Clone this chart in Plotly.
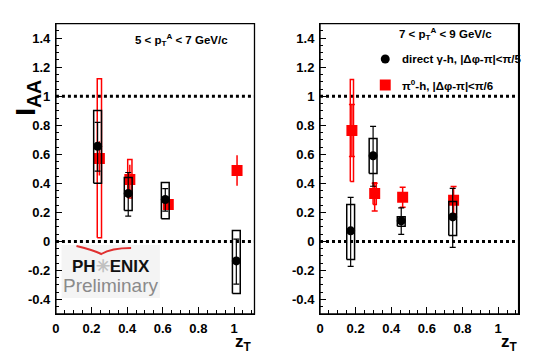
import numpy as np
import plotly.graph_objects as go

W, H = 559, 359

# panel 1: 5 < pT^A < 7 GeV/c
zt_gam_1 = [0.234, 0.406, 0.614, 1.013]
iaa_gam_1 = [0.656, 0.331, 0.289, -0.134]
stat_lo_gam_1 = [0.484, 0.174, 0.209, -0.294]
stat_hi_gam_1 = [0.820, 0.475, 0.364, 0.016]
sys_lo_gam_1 = [0.400, 0.213, 0.156, -0.358]
sys_hi_gam_1 = [0.902, 0.441, 0.406, 0.076]

zt_pi_1 = [0.244, 0.415, 0.631, 1.017]
iaa_pi_1 = [0.572, 0.427, 0.255, 0.489]
stat_lo_pi_1 = [0.455, 0.330, 0.225, 0.383]
stat_hi_pi_1 = [0.690, 0.528, 0.285, 0.594]
sys_lo_pi_1 = [0.025, 0.300, None, None]
sys_hi_pi_1 = [1.120, 0.565, None, None]

# panel 2: 7 < pT^A < 9 GeV/c
zt_gam_2 = [0.172, 0.298, 0.456, 0.745]
iaa_gam_2 = [0.073, 0.590, 0.142, 0.169]
stat_lo_gam_2 = [-0.172, 0.380, 0.048, -0.041]
stat_hi_gam_2 = [0.303, 0.792, 0.231, 0.365]
sys_lo_gam_2 = [-0.124, 0.468, 0.105, 0.041]
sys_hi_gam_2 = [0.255, 0.709, 0.170, 0.275]

zt_pi_2 = [0.179, 0.307, 0.464, 0.750]
iaa_pi_2 = [0.764, 0.331, 0.305, 0.284]
stat_lo_pi_2 = [0.585, 0.209, 0.236, 0.190]
stat_hi_pi_2 = [0.944, 0.400, 0.374, 0.379]
sys_lo_pi_2 = [0.413, 0.255, None, None]
sys_hi_pi_2 = [1.116, 0.404, None, None]

y_ticks = [-0.4, -0.2, 0, 0.2, 0.4, 0.6, 0.8, 1.0, 1.2, 1.4]
y_ticktext = ["-0.4", "-0.2", "0", "0.2", "0.4", "0.6", "0.8", "1", "1.2", "1.4"]
x_ticks = [0, 0.2, 0.4, 0.6, 0.8, 1.0]
x_ticktext = ["0", "0.2", "0.4", "0.6", "0.8", "1"]

FONT = "Liberation Sans, Arial, sans-serif"
RED = "#ff0000"


def px(x):
    return x / W


def py(y):
    return 1 - y / H


def box_path(xs, lo, hi, hw):
    bx, by = [], []
    for x, a, b in zip(xs, lo, hi):
        if a is None:
            continue
        bx += [x - hw, x + hw, x + hw, x - hw, x - hw, None]
        by += [a, a, b, b, a, None]
    return bx, by


def err(vals, lo, hi):
    v = np.array(vals)
    return dict(type="data", symmetric=False, array=np.array(hi) - v,
                arrayminus=v - np.array(lo))


fig = go.Figure()

panels = [
    ("x", "y", zt_gam_1, iaa_gam_1, stat_lo_gam_1, stat_hi_gam_1, sys_lo_gam_1, sys_hi_gam_1,
     zt_pi_1, iaa_pi_1, stat_lo_pi_1, stat_hi_pi_1, sys_lo_pi_1, sys_hi_pi_1, 0.012, 0),
    ("x2", "y2", zt_gam_2, iaa_gam_2, stat_lo_gam_2, stat_hi_gam_2, sys_lo_gam_2, sys_hi_gam_2,
     zt_pi_2, iaa_pi_2, stat_lo_pi_2, stat_hi_pi_2, sys_lo_pi_2, sys_hi_pi_2, 0.009, 3),
]

for (xa, ya, zg, ig, slg, shg, ylg, yhg, zp, ip, slp, shp, ylp, yhp, red_hw, red_cap) in panels:
    # red systematic boxes
    bx, by = box_path(zp, ylp, yhp, red_hw)
    fig.add_trace(go.Scatter(x=bx, y=by, mode="lines", line=dict(color=RED, width=1.5),
                             xaxis=xa, yaxis=ya, showlegend=False, hoverinfo="skip"))
    # pi0-h points
    fig.add_trace(go.Scatter(x=zp, y=ip, mode="markers", xaxis=xa, yaxis=ya,
                             marker=dict(symbol="square", size=11, color=RED),
                             error_y=dict(**err(ip, slp, shp), color=RED, thickness=1.5, width=red_cap),
                             showlegend=False))
    # black systematic boxes
    bx, by = box_path(zg, ylg, yhg, 0.022)
    fig.add_trace(go.Scatter(x=bx, y=by, mode="lines", line=dict(color="black", width=1.5),
                             xaxis=xa, yaxis=ya, showlegend=False, hoverinfo="skip"))
    # direct gamma-h points
    fig.add_trace(go.Scatter(x=zg, y=ig, mode="markers", xaxis=xa, yaxis=ya,
                             marker=dict(symbol="circle", size=9, color="black"),
                             error_y=dict(**err(ig, slg, shg), color="black", thickness=1.2, width=3),
                             showlegend=False))

axis_font = dict(family=FONT, size=13, color="black", weight="bold")
common_x = dict(range=[0, 1.115], showline=True, linecolor="black", linewidth=1, mirror=True,
                showgrid=False, zeroline=False, ticks="inside", ticklen=7, tickwidth=1,
                tickcolor="black", tickvals=x_ticks, ticktext=x_ticktext, tickfont=axis_font,
                ticklabelstandoff=2,
                minor=dict(dtick=0.05, tick0=0, ticks="inside", ticklen=4, tickcolor="black",
                           showgrid=False))
common_y = dict(range=[-0.5, 1.5], showline=True, linecolor="black", linewidth=1, mirror=True,
                showgrid=False, zeroline=False, ticks="inside", ticklen=6, tickwidth=1,
                tickcolor="black", tickvals=y_ticks, ticktext=y_ticktext, tickfont=axis_font,
                ticklabelstandoff=2,
                minor=dict(dtick=0.05, tick0=0, ticks="inside", ticklen=3, tickcolor="black",
                           showgrid=False))

fig.update_layout(
    width=W, height=H,
    margin=dict(l=0, r=0, t=0, b=0),
    paper_bgcolor="white", plot_bgcolor="white",
    font=dict(family=FONT, color="black"),
    xaxis=dict(domain=[px(52.3), px(252.3)], anchor="y", **common_x),
    yaxis=dict(domain=[py(314), py(23.7)], anchor="x", **common_y),
    xaxis2=dict(domain=[px(318.3), px(518.3)], anchor="y2", **common_x),
    yaxis2=dict(domain=[py(314), py(23.7)], anchor="x2", **common_y),
    showlegend=False,
)

for xr, yr in [("x", "y"), ("x2", "y2")]:
    # dotted reference lines at 0 and 1
    for lvl in [0, 1]:
        fig.add_shape(type="line", xref=f"{xr} domain", yref=yr, x0=0, x1=1, y0=lvl, y1=lvl,
                      line=dict(color="black", width=3, dash="dot"), layer="below")
    # frame
    fig.add_shape(type="rect", xref=f"{xr} domain", yref=f"{yr} domain", x0=0, x1=1, y0=0, y1=1,
                  line=dict(color="black", width=1.3), layer="above")

# PHENIX preliminary logo
fig.add_shape(type="rect", xref="paper", yref="paper", x0=px(58), x1=px(157), y0=py(298), y1=py(245),
              fillcolor="#f4f4f4", line=dict(width=0), layer="below")
fig.add_shape(type="path", xref="paper", yref="paper",
              path=f"M {px(73)},{py(246)} Q {px(90)},{py(250)} {px(98)},{py(254)} "
                   f"Q {px(108)},{py(248)} {px(128)},{py(248)}",
              line=dict(color="#e03030", width=2))

ann = []
ann.append(dict(x=px(108), y=py(266.5), text="PH<span style='color:#c0c0c0'>✳</span>ENIX",
                font=dict(family=FONT, size=17, color="#111111", weight="bold")))
ann.append(dict(x=px(108), y=py(285), text="Preliminary",
                font=dict(family=FONT, size=19, color="#8a8a8a")))

# y title
ann.append(dict(x=px(23), y=py(98), text="I<sub>AA</sub>", textangle=-90,
                font=dict(family=FONT, size=28, weight="bold")))
# x titles
for xc in [241, 509]:
    ann.append(dict(x=px(xc), y=py(343), text="z<sub>T</sub>",
                    font=dict(family=FONT, size=17, weight="bold")))
# panel titles
ann.append(dict(x=px(178.5), y=py(40), text="5 < p<sub>T</sub><sup>A</sup> < 7 GeV/c",
                font=dict(family=FONT, size=11.5, weight="bold")))
ann.append(dict(x=px(444.5), y=py(34), text="7 < p<sub>T</sub><sup>A</sup> < 9 GeV/c",
                font=dict(family=FONT, size=11.5, weight="bold")))
# legend
ann.append(dict(x=px(399), y=py(59), xanchor="left", text="direct γ-h, |Δφ-π|<π/5",
                font=dict(family=FONT, size=11.5, weight="bold")))
ann.append(dict(x=px(399), y=py(85), xanchor="left", text="π<sup>0</sup>-h, |Δφ-π|<π/6",
                font=dict(family=FONT, size=11.5, weight="bold")))

for a in ann:
    a.setdefault("xanchor", "center")
    a.update(xref="paper", yref="paper", yanchor="middle", showarrow=False)
    fig.add_annotation(**a)

fig.add_shape(type="circle", xref="paper", yref="paper", x0=px(379.5), x1=px(388.5),
              y0=py(63.5), y1=py(54.5), fillcolor="black", line=dict(width=0))
fig.add_shape(type="rect", xref="paper", yref="paper", x0=px(378.5), x1=px(389.5),
              y0=py(90.5), y1=py(79.5), fillcolor=RED, line=dict(width=0))

# the page's default body margin would shift the figure by 8px
fig.write_html("out.html", config={"displayModeBar": False},
               post_script="document.body.style.margin='0';")
